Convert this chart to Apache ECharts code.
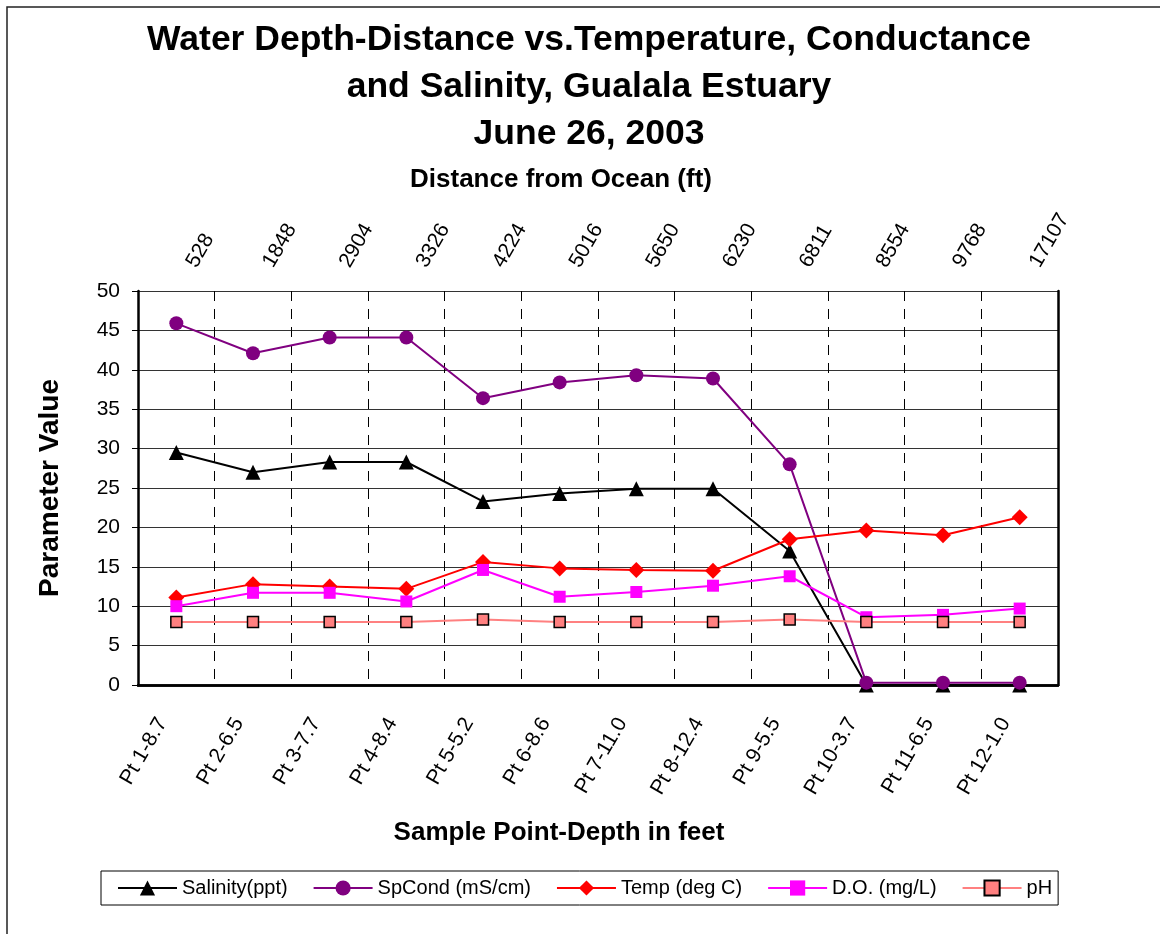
<!DOCTYPE html>
<html>
<head>
<meta charset="utf-8">
<title>Gualala Estuary</title>
<script src="https://cdn.jsdelivr.net/npm/echarts@6/dist/echarts.min.js"></script>
<style>
  html, body { margin: 0; padding: 0; background: #fff; }
  #chart_show { width: 1160px; height: 934px; }
</style>
</head>
<body>
<div id="chart_show"></div>
<script>
// 数据
const samplePoints = ['Pt 1-8.7', 'Pt 2-6.5', 'Pt 3-7.7', 'Pt 4-8.4', 'Pt 5-5.2', 'Pt 6-8.6',
  'Pt 7-11.0', 'Pt 8-12.4', 'Pt 9-5.5', 'Pt 10-3.7', 'Pt 11-6.5', 'Pt 12-1.0'];
const distances = ['528', '1848', '2904', '3326', '4224', '5016', '5650', '6230', '6811', '8554', '9768', '17107'];
const salinity = [29.5, 27.0, 28.3, 28.3, 23.3, 24.3, 24.9, 24.9, 17.0, 0, 0, 0];
const spCond = [45.9, 42.1, 44.1, 44.1, 36.4, 38.4, 39.3, 38.9, 28.0, 0.3, 0.3, 0.3];
const temp = [11.1, 12.8, 12.5, 12.2, 15.6, 14.8, 14.6, 14.5, 18.5, 19.6, 19.0, 21.3];
const dissolvedO2 = [10.0, 11.7, 11.7, 10.6, 14.6, 11.2, 11.8, 12.6, 13.8, 8.6, 8.9, 9.7];
const ph = [8.0, 8.0, 8.0, 8.0, 8.3, 8.0, 8.0, 8.0, 8.3, 8.0, 8.0, 8.0];
const yTicks = { min: 0, max: 50, interval: 5 };

const FONT = 'Liberation Sans, Arial, sans-serif';

const myChart = echarts.init(document.getElementById('chart_show'));

function lineSeries(name, data, color, symbol, size, extra) {
  return Object.assign({
    name: name,
    type: 'line',
    data: data,
    symbol: symbol,
    symbolSize: size,
    lineStyle: { color: color, width: 2 },
    itemStyle: { color: color },
    emphasis: { disabled: true },
    animation: false
  }, extra || {});
}

const option = {
  backgroundColor: '#fff',
  textStyle: { fontFamily: FONT, color: '#000' },
  graphic: [
    {
      type: 'rect', z: -1, silent: true,
      shape: { x: 7, y: 7, width: 1400, height: 1200 },
      style: { fill: null, stroke: '#222', lineWidth: 1.5 }
    },
    {
      type: 'text', x: 589, y: 87,
      style: {
        text: 'Water Depth-Distance vs.Temperature, Conductance\nand Salinity, Gualala Estuary\nJune 26, 2003',
        font: 'bold 35.5px ' + FONT, fill: '#000', align: 'center', verticalAlign: 'middle', lineHeight: 47
      }
    },
    {
      type: 'text', x: 561, y: 180,
      style: {
        text: 'Distance from Ocean (ft)',
        font: 'bold 26px ' + FONT, fill: '#000', align: 'center', verticalAlign: 'middle'
      }
    },
    {
      type: 'text', x: 559, y: 833,
      style: {
        text: 'Sample Point-Depth in feet',
        font: 'bold 26px ' + FONT, fill: '#000', align: 'center', verticalAlign: 'middle'
      }
    }
  ],
  grid: { left: 138, right: 102, top: 291, bottom: 249 },
  legend: {
    left: 101,
    top: 871,
    padding: [7, 6, 7, 16],
    borderColor: '#000',
    borderWidth: 1,
    itemGap: 25,
    itemWidth: 59,
    itemHeight: 19,
    textStyle: { fontSize: 20, color: '#000', fontFamily: FONT },
    data: ['Salinity(ppt)', 'SpCond (mS/cm)', 'Temp (deg C)', 'D.O. (mg/L)', 'pH']
  },
  xAxis: [
    {
      type: 'category',
      position: 'bottom',
      data: samplePoints,
      axisLine: { lineStyle: { color: '#000', width: 2.5 } },
      axisTick: { interval: 1, length: 6, lineStyle: { color: '#000', width: 1 } },
      axisLabel: {
        rotate: 60, margin: 31, fontSize: 21, color: '#000', interval: 0,
        verticalAlign: 'bottom', padding: [0, 10, 0, 0]
      },
      splitLine: { show: true, interval: 0, lineStyle: { color: '#000', type: [10, 8], width: 1 } }
    },
    {
      type: 'category',
      position: 'top',
      data: distances,
      axisLine: { lineStyle: { color: '#000', width: 2.5 } },
      axisTick: { interval: 0, length: 6, lineStyle: { color: '#000', width: 1 } },
      axisLabel: {
        rotate: 60, margin: 20, fontSize: 21, color: '#000', interval: 0,
        verticalAlign: 'top', padding: [0, 0, 0, 12]
      },
      splitLine: { show: false }
    },
    {
      type: 'category',
      position: 'top',
      data: distances,
      axisLine: { show: false },
      axisTick: { alignWithLabel: true, interval: 0, length: 6, lineStyle: { color: '#000', width: 1 } },
      axisLabel: { show: false },
      splitLine: { show: false }
    }
  ],
  yAxis: [
    {
      type: 'value',
      min: yTicks.min,
      max: yTicks.max,
      interval: yTicks.interval,
      name: 'Parameter Value',
      nameLocation: 'middle',
      nameGap: 74,
      nameTextStyle: { fontSize: 28, fontWeight: 'bold', color: '#000' },
      axisLine: { show: true, lineStyle: { color: '#000', width: 2.5 } },
      axisTick: { show: true, length: 6, lineStyle: { color: '#000', width: 1 } },
      axisLabel: { margin: 18, fontSize: 21, color: '#000' },
      splitLine: { lineStyle: { color: '#333', width: 1 } }
    },
    {
      type: 'value',
      position: 'right',
      min: yTicks.min,
      max: yTicks.max,
      interval: yTicks.interval,
      axisLine: { show: true, lineStyle: { color: '#000', width: 2.5 } },
      axisTick: { show: false },
      axisLabel: { show: false },
      splitLine: { show: false }
    }
  ],
  series: [
    lineSeries('Salinity(ppt)', salinity, '#000', 'triangle', 15),
    lineSeries('SpCond (mS/cm)', spCond, '#800080', 'circle', 14),
    lineSeries('Temp (deg C)', temp, '#ff0000', 'diamond', 16),
    lineSeries('D.O. (mg/L)', dissolvedO2, '#ff00ff', 'rect', 12),
    lineSeries('pH', ph, '#ff8080', 'rect', 11, {
      itemStyle: { color: '#ff8080', borderColor: '#000', borderWidth: 1.5 }
    })
  ]
};

// 使用刚指定的配置项和数据显示图表。
myChart.setOption(option);
</script>
</body>
</html>
